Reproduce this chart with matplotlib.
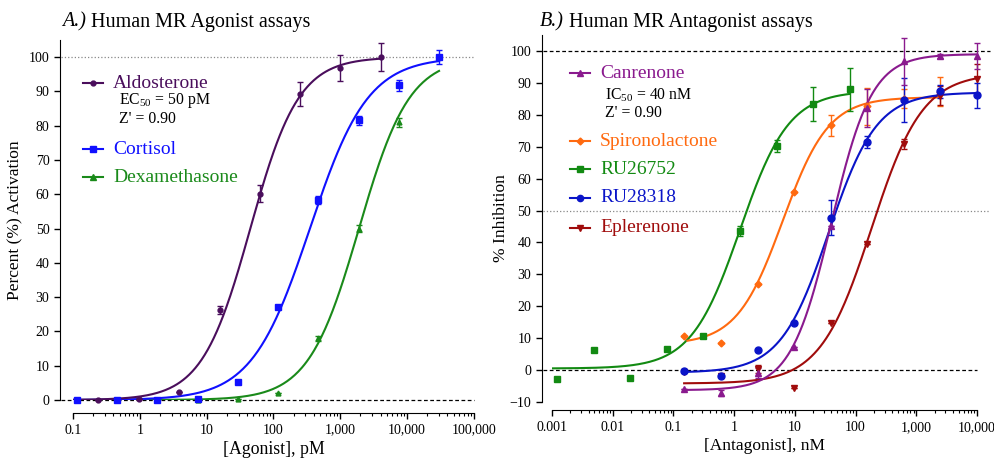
import matplotlib
matplotlib.use("Agg")
import matplotlib.pyplot as plt
import numpy as np
from matplotlib.ticker import LogLocator, FixedLocator, NullFormatter
from matplotlib.lines import Line2D

plt.rcParams['font.family'] = ['Liberation Serif', 'DejaVu Serif']
plt.rcParams['mathtext.fontset'] = 'custom'
plt.rcParams['mathtext.rm'] = 'Liberation Serif'
plt.rcParams['mathtext.it'] = 'Liberation Serif:italic'

# ---- A.) agonist data (pM, % activation) ----
aldo_x = [0.24, 0.98, 3.9, 15.6, 62.5, 250, 1000, 4000]
aldo_y = [0.1, 0.2, 2.4, 26.2, 60.2, 89.2, 96.7, 100.0]
aldo_err = [0, 0, 0, 1.2, 2.5, 3.5, 3.8, 4.0]
aldo_fit = [0, 100, 45, 1.2]          # bottom, top, EC50, hill

cort_x = [0.114, 0.46, 1.83, 7.3, 29.3, 117, 469, 1875, 7500, 30000]
cort_y = [0.0, 0.0, 0.0, 0.3, 5.2, 27.0, 58.3, 81.6, 91.8, 100.0]
cort_err = [0, 0, 0, 0, 0, 0, 1.2, 1.3, 1.6, 2.0]
cort_fit = [0, 100, 350, 1.0]

dex_x = [0.114, 0.46, 1.83, 7.3, 29.3, 117, 469, 1875, 7500]
dex_y = [0.0, 0.0, 0.0, 0.1, 0.3, 2.1, 18.0, 50.0, 81.0]
dex_err = [0, 0, 0, 0, 0, 0, 0.8, 1.0, 1.3]
dex_fit = [0, 100, 1900, 1.15]

# ---- B.) antagonist data (nM, % inhibition) ----
conc_b = [0.15, 0.61, 2.44, 9.8, 39, 156, 625, 2500, 10000]

can_y = [-6.0, -7.1, -1.0, 7.3, 45.0, 82.2, 96.7, 98.4, 98.5]
can_err = [0, 1.0, 1.5, 0, 0, 6.0, 7.5, 0.5, 4.0]
can_fit = [-6.3, 99, 40, 1.3]

spiro_x = [0.15, 0.61, 2.44, 9.8, 39, 156, 625, 2500]
spiro_y = [10.7, 8.4, 27.1, 55.8, 76.7, 82.6, 85.0, 87.2]
spiro_err = [0, 0, 0, 0, 3.2, 5.8, 3.0, 4.6]
spiro_fit = [8.0, 85.5, 6.3, 1.15]

ru26_x = [0.0012, 0.0049, 0.0195, 0.078, 0.31, 1.25, 5, 20, 80]
ru26_y = [-2.8, 6.3, -2.4, 6.7, 10.6, 43.6, 70.2, 83.3, 88.0]
ru26_err = [0, 0, 0, 0, 0, 1.5, 2.0, 5.3, 6.8]
ru26_fit = [0.5, 87.5, 1.25, 1.08]

ru28_y = [-0.3, -1.7, 6.3, 14.6, 47.8, 71.5, 84.6, 87.4, 86.1]
ru28_err = [0, 0, 0, 0, 5.5, 2.0, 6.8, 2.0, 4.0]
ru28_fit = [-0.8, 87, 36, 1.1]

eple_y = [-0.5, -1.7, 0.4, -5.7, 14.6, 39.4, 70.8, 86.0, 91.3]
eple_err = [0, 0, 1.3, 0, 0, 0, 1.5, 3.0, 4.5]
eple_fit = [-4.2, 93, 183, 1.03]

agonist_ticks = [0.1, 1, 10, 100, 1000, 10000, 100000]
agonist_labels = ['0.1', '1', '10', '100', '1,000', '10,000', '100,000']
antag_ticks = [0.001, 0.01, 0.1, 1, 10, 100, 1000, 10000]
antag_labels = ['0.001', '0.01', '0.1', '1', '10', '100', '1,000', '10,000']


def hill(x, bottom, top, ec50, h):
    return bottom + (top - bottom) / (1 + (ec50 / x) ** h)


def draw_series(ax, x, y, err, fit, color, marker, ms, lo, hi):
    xx = np.logspace(np.log10(lo), np.log10(hi), 300)
    ax.plot(xx, hill(xx, *fit), color=color, lw=1.5, zorder=3)
    ax.errorbar(x, y, yerr=err, fmt=marker, color=color, ms=ms,
                elinewidth=1, capsize=2.5, capthick=1, zorder=4, clip_on=False)


W, H = 995, 462
fig = plt.figure(figsize=(W / 100, H / 100), dpi=100)


def fx(px):
    return px / W


def fy(py):
    return 1 - py / H


def legend_row(py, x0, color, marker, ms, label, size=14):
    # hand-placed legend entry: short line, marker in the middle, coloured label
    fig.add_artist(Line2D([fx(x0), fx(x0 + 20)], [fy(py), fy(py)], color=color,
                          lw=1.5, transform=fig.transFigure))
    fig.add_artist(Line2D([fx(x0 + 10)], [fy(py)], color=color, marker=marker,
                          ms=ms, transform=fig.transFigure))
    fig.text(fx(x0 + 30), fy(py), label, color=color, fontsize=size, va='center')


def panel_title(px, letter, rest):
    # italic panel letter followed by upright title text
    t = fig.text(fx(px), fy(22), letter, fontsize=14.5, style='italic', va='center')
    fig.add_artist(matplotlib.text.Annotation(rest, xy=(1, 0.5), xycoords=t,
                                              va='center', ha='left', fontsize=14.5))


def style_axis(ax, xticks, xlabels, sans):
    ax.set_xscale('log')
    for s in ['top', 'right']:
        ax.spines[s].set_visible(False)
    ax.xaxis.set_major_locator(FixedLocator(xticks))
    ax.set_xticklabels(xlabels)
    ax.xaxis.set_minor_locator(LogLocator(base=10, subs=np.arange(2, 10)))
    ax.xaxis.set_minor_formatter(NullFormatter())
    ax.tick_params(which='major', length=4, width=1)
    ax.tick_params(which='minor', length=2.5, width=0.8)
    fam = ['Liberation Sans'] if sans else ['Liberation Serif']
    for lab in ax.get_xticklabels() + ax.get_yticklabels():
        lab.set_family(fam)
        lab.set_fontsize(10 if sans else 9)


# ================= Panel A =================
axA = fig.add_axes([fx(73), fy(400), fx(474 - 73), (400 - 40) / H])
axA.set_xlim(0.1, 100000)
axA.set_ylim(0, 105)
axA.set_yticks(np.arange(0, 101, 10))
style_axis(axA, agonist_ticks, agonist_labels, False)
axA.spines['left'].set_position(('outward', 9.5))
axA.spines['bottom'].set_position(('outward', 9.5))
axA.axhline(100, xmin=-0.03, xmax=1.0, color='#888888', ls=':', lw=0.9,
            clip_on=False, zorder=1)
axA.axhline(0, xmin=-0.03, xmax=1.0, color='black', ls=(0, (3, 2)), lw=0.9,
            clip_on=False, zorder=1)

draw_series(axA, dex_x, dex_y, dex_err, dex_fit, '#1a8a1a', '^', 3.5, 0.1, 30000)
draw_series(axA, cort_x, cort_y, cort_err, cort_fit, '#1010ff', 's', 4, 0.1, 30000)
draw_series(axA, aldo_x, aldo_y, aldo_err, aldo_fit, '#4a0e5c', 'o', 3.5, 0.1, 4000)

axA.set_xlabel('[Agonist], pM', fontsize=12.8, labelpad=3)
axA.set_ylabel('Percent (%) Activation', fontsize=12.5, labelpad=4)
panel_title(62, 'A.)', ' Human MR Agonist assays')

legend_row(83, 83, '#4a0e5c', 'o', 3.5, 'Aldosterone')
fig.text(fx(119), fy(101), r'EC$_{50}$ = 50 pM', fontsize=11.3, va='center')
fig.text(fx(119), fy(119), "Z' = 0.90", fontsize=11.3, va='center')
legend_row(149, 83, '#1010ff', 's', 4, 'Cortisol')
legend_row(177, 83, '#1a8a1a', '^', 4, 'Dexamethasone')

# ================= Panel B =================
axB = fig.add_axes([fx(552), fy(402), fx(977 - 552), (402 - 35) / H])
axB.set_xlim(0.001, 10000)
axB.set_ylim(-10, 105)
axB.set_yticks(np.arange(-10, 101, 10))
style_axis(axB, antag_ticks, antag_labels, True)
axB.spines['left'].set_position(('outward', 7.5))
axB.spines['bottom'].set_position(('outward', 6))
axB.axhline(100, xmin=-0.02, xmax=1.03, color='black', ls=(0, (3, 2)), lw=0.9,
            clip_on=False, zorder=1)
axB.axhline(50, xmin=-0.02, xmax=1.03, color='#888888', ls=':', lw=0.9,
            clip_on=False, zorder=1)
axB.axhline(0, xmin=-0.02, xmax=1.0, color='black', ls=(0, (3, 2)), lw=0.9,
            clip_on=False, zorder=1)

draw_series(axB, ru26_x, ru26_y, ru26_err, ru26_fit, '#128a12', 's', 5, 0.001, 80)
draw_series(axB, spiro_x, spiro_y, spiro_err, spiro_fit, '#ff6a10', 'D', 3.5, 0.17, 2500)
draw_series(axB, conc_b, eple_y, eple_err, eple_fit, '#a00c0c', 'v', 5, 0.15, 10000)
draw_series(axB, conc_b, ru28_y, ru28_err, ru28_fit, '#0a14c8', 'o', 5, 0.15, 10000)
draw_series(axB, conc_b, can_y, can_err, can_fit, '#8a1a8e', '^', 5, 0.15, 10000)

axB.set_xlabel('[Antagonist], nM', fontsize=12.5, labelpad=3)
axB.set_ylabel('% Inhibition', fontsize=12.5, labelpad=0)
panel_title(540, 'B.)', ' Human MR Antagonist assays')

legend_row(73, 570, '#8a1a8e', '^', 4.5, 'Canrenone')
fig.text(fx(605), fy(95), r'IC$_{50}$ = 40 nM', fontsize=11.3, va='center')
fig.text(fx(605), fy(113), "Z' = 0.90", fontsize=11.3, va='center')
legend_row(141, 570, '#ff6a10', 'D', 3.5, 'Spironolactone')
legend_row(169, 570, '#128a12', 's', 4.5, 'RU26752')
legend_row(198, 570, '#0a14c8', 'o', 4.5, 'RU28318')
legend_row(228, 570, '#a00c0c', 'v', 4.5, 'Eplerenone')

fig.savefig('out.png', dpi=100)
